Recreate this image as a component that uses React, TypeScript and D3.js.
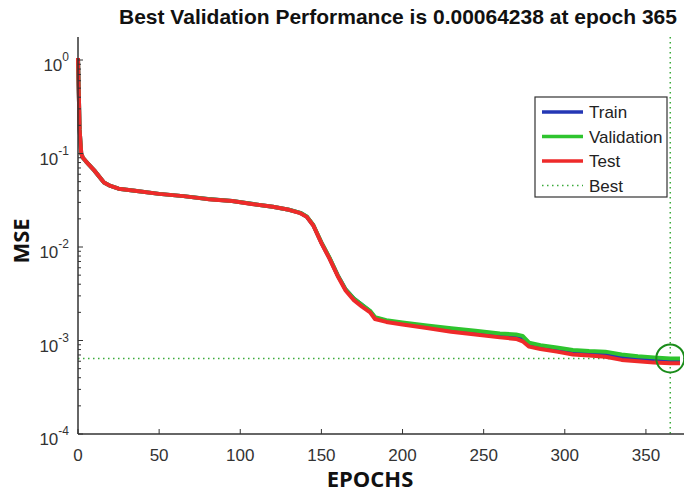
import React from 'react';
import * as d3 from 'd3';

const epochs = [0, 1, 2, 3, 5, 10, 16, 20, 25, 35, 50, 65, 80, 95, 108, 120, 130, 137, 141, 145, 150, 155, 160, 165, 170, 175, 180, 183, 190, 200, 215, 230, 245, 260, 270, 274, 278, 285, 295, 305, 315, 325, 335, 345, 355, 365, 371];

const testMSE = [1.05, 0.18, 0.1, 0.09, 0.082, 0.066, 0.049, 0.045, 0.042, 0.04, 0.037, 0.035, 0.0325, 0.031, 0.0287, 0.027, 0.025, 0.023, 0.021, 0.017, 0.011, 0.0075, 0.0049, 0.0034, 0.0027, 0.0023, 0.002, 0.0017, 0.00158, 0.00148, 0.00136, 0.00124, 0.00116, 0.00108, 0.00104, 0.00098, 0.00086, 0.00081, 0.00076, 0.00071, 0.00069, 0.00067, 0.00062, 0.0006, 0.00058, 0.00057, 0.00057];

const validationMSE = [1.05, 0.18, 0.1, 0.09, 0.082, 0.066, 0.049, 0.045, 0.042, 0.04, 0.037, 0.035, 0.0326, 0.031, 0.0288, 0.027, 0.025, 0.0232, 0.0212, 0.0172, 0.0112, 0.0077, 0.005, 0.0035, 0.0028, 0.0024, 0.00208, 0.00178, 0.00165, 0.00156, 0.00145, 0.00135, 0.00127, 0.00119, 0.00116, 0.00112, 0.00095, 0.00089, 0.00084, 0.00079, 0.00077, 0.00076, 0.00071, 0.00068, 0.00066, 0.00064238, 0.00064];

const trainMSE = [1.05, 0.18, 0.1, 0.09, 0.082, 0.066, 0.049, 0.045, 0.042, 0.04, 0.037, 0.035, 0.0326, 0.031, 0.0288, 0.027, 0.025, 0.0232, 0.0211, 0.0171, 0.0111, 0.0076, 0.005, 0.0035, 0.0028, 0.0024, 0.00205, 0.00175, 0.00162, 0.00152, 0.0014, 0.0013, 0.00122, 0.00114, 0.00112, 0.00105, 0.0009, 0.00085, 0.0008, 0.00075, 0.00073, 0.00071, 0.00066, 0.00063, 0.00061, 0.0006, 0.0006];

const xTicks = [0, 50, 100, 150, 200, 250, 300, 350];
const yTickExponents = [0, -1, -2, -3, -4];
const bestEpoch = 365;
const bestValue = 0.00064238;
const legendLabels = ['Train', 'Validation', 'Test', 'Best'];
const titleText = 'Best Validation Performance is 0.00064238 at epoch 365';

const W = 684;
const H = 493;
const axisLeft = 78;
const axisBottom = 434;
const axisTop = 37;

const x = d3.scaleLinear().domain([0, 371]).range([axisLeft, 680]);
const y = d3.scaleLog().domain([1e-4, Math.pow(10, (60 - 37) / 93.5)]).range([axisBottom, axisTop]);

const colors = { train: '#2437b5', validation: '#2ec42e', test: '#ee2a2a', best: '#3aaa3a' };

export default function App() {
  const line = (vals: number[]) =>
    d3.line<number>().x((_, i) => x(epochs[i])).y((d) => y(d))(vals) || '';

  const minorTicks: number[] = [];
  for (let e = -4; e <= 0; e++) {
    for (let m = 2; m <= 9; m++) {
      const v = m * Math.pow(10, e);
      if (v <= y.domain()[1]) minorTicks.push(v);
    }
  }
  const font = '"Liberation Sans", Arial, sans-serif';
  const axisColor = '#333';
  const bx = x(bestEpoch);
  const by = y(bestValue);
  const legendX = 535, legendY = 97, legendW = 132, legendH = 100;
  const legendColors = [colors.train, colors.validation, colors.test];

  return (
    <svg width={W} height={H} style={{ position: 'fixed', left: 0, top: 0, background: '#fff' }} fontFamily={font}>
      <rect x={0} y={0} width={W} height={H} fill="#fff" />
      <text x={398} y={24} textAnchor="middle" fontSize={21} fontWeight="bold" fill="#111">{titleText}</text>

      {/* best lines */}
      <line x1={axisLeft} x2={W} y1={by} y2={by} stroke={colors.best} strokeWidth={1.5} strokeDasharray="1.5,3.5" />
      <line x1={bx} x2={bx} y1={axisTop} y2={axisBottom} stroke={colors.best} strokeWidth={1.5} strokeDasharray="1.5,3.5" />

      {/* curves */}
      <path d={line(trainMSE)} fill="none" stroke={colors.train} strokeWidth={4} strokeLinejoin="round" />
      <path d={line(validationMSE)} fill="none" stroke={colors.validation} strokeWidth={4} strokeLinejoin="round" />
      <path d={line(testMSE)} fill="none" stroke={colors.test} strokeWidth={4} strokeLinejoin="round" />

      <circle cx={bx} cy={by} r={14} fill="none" stroke="#1a8c1a" strokeWidth={2} />

      {/* axes */}
      <line x1={axisLeft} x2={axisLeft} y1={axisTop} y2={axisBottom} stroke={axisColor} strokeWidth={1.5} />
      <line x1={axisLeft} x2={W} y1={axisBottom} y2={axisBottom} stroke={axisColor} strokeWidth={1.5} />
      {yTickExponents.map((e) => {
        const ty = y(Math.pow(10, e));
        return (
          <g key={e}>
            <line x1={axisLeft} x2={axisLeft + 5} y1={ty} y2={ty} stroke={axisColor} strokeWidth={1} />
            <text x={axisLeft - 9} y={ty + 11} textAnchor="end" fontSize={17} fill="#333">
              10<tspan dy={-10} fontSize={12}>{String(e)}</tspan>
            </text>
          </g>
        );
      })}
      {minorTicks.map((v, i) => (
        <line key={i} x1={axisLeft} x2={axisLeft + 3} y1={y(v)} y2={y(v)} stroke={axisColor} strokeWidth={1} />
      ))}
      {xTicks.map((t) => (
        <g key={t}>
          <line x1={x(t)} x2={x(t)} y1={axisBottom} y2={axisBottom - 5} stroke={axisColor} strokeWidth={1} />
          <text x={x(t)} y={axisBottom + 27} textAnchor="middle" fontSize={17} fill="#333">{t}</text>
        </g>
      ))}
      <text x={370} y={487} textAnchor="middle" fontSize={22} fontWeight="bold" fill="#111" fontFamily='"Open Sans", sans-serif'>EPOCHS</text>
      <text transform="translate(29,241) rotate(-90)" textAnchor="middle" fontSize={22} fontWeight="bold" fill="#111" fontFamily='"Open Sans", sans-serif'>MSE</text>

      {/* legend */}
      <rect x={legendX} y={legendY} width={legendW} height={legendH} fill="#fff" stroke="#333" strokeWidth={1.2} />
      {legendLabels.map((lab, i) => {
        const ly = legendY + 15 + i * 24.5;
        return (
          <g key={lab}>
            {i < 3 ? (
              <line x1={legendX + 7} x2={legendX + 48} y1={ly} y2={ly} stroke={legendColors[i]} strokeWidth={3.5} />
            ) : (
              <line x1={legendX + 7} x2={legendX + 48} y1={ly} y2={ly} stroke={colors.best} strokeWidth={1.5} strokeDasharray="1.5,3.5" />
            )}
            <text x={legendX + 54} y={ly + 6} fontSize={17} fill="#222">{lab}</text>
          </g>
        );
      })}
    </svg>
  );
}
